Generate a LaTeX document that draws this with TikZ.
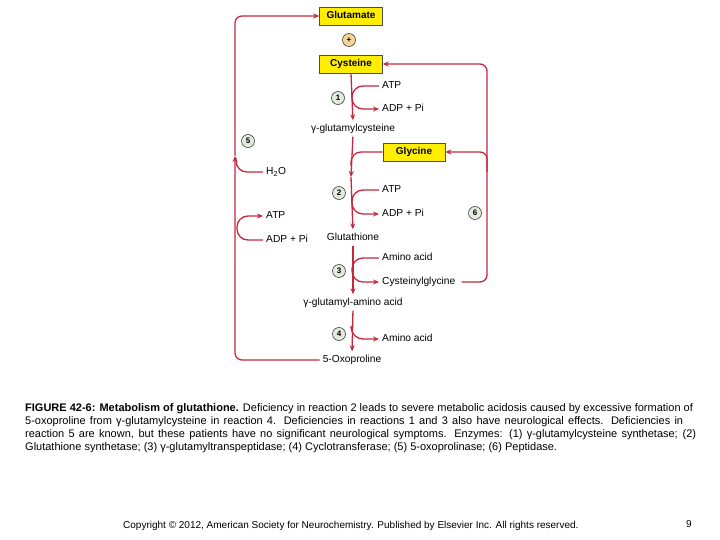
\documentclass[tikz,border=0pt]{standalone}
\usepackage{fontspec}
\setmainfont{Liberation Sans}
\usetikzlibrary{arrows.meta}
\definecolor{pathred}{RGB}{196,40,62}
\definecolor{boxyellow}{RGB}{255,238,0}
\definecolor{stepgreen}{RGB}{226,236,222}
\definecolor{pluspeach}{RGB}{246,214,150}
\tikzset{
  molbox/.style={draw=black!70, fill=boxyellow, line width=0.6pt, minimum width=63pt,
    minimum height=18pt, inner sep=0pt, text height=7.5pt, text depth=2pt,
    font=\fontsize{10}{12}\selectfont\bfseries},
  lbl/.style={inner ysep=1pt, inner xsep=3pt, text height=7pt, text depth=2pt,
    font=\fontsize{10.2}{12}\selectfont},
  enz/.style={circle, draw=black!75, fill=stepgreen, line width=0.6pt, minimum size=13pt,
    inner sep=0pt, font=\fontsize{8}{9}\selectfont\bfseries},
  flow/.style={draw=pathred, line width=1.3pt, -{Stealth[length=6pt,width=5pt]}},
  link/.style={draw=pathred, line width=1.3pt},
  captxt/.style={anchor=base west, inner sep=0pt, font=\fontsize{11}{13}\selectfont},
}
\begin{document}
\begin{tikzpicture}[x=1pt,y=-1pt]
	\useasboundingbox (0,0) rectangle (720,540);
	% substrates
	\node[molbox] (glu) at (351,16) {Glutamate};
	\node[enz, fill=pluspeach] (plus) at (349,40) {+};
	\node[molbox] (cys) at (351,64) {Cysteine};
	\node[molbox, minimum width=62pt] (gly) at (414,152) {Glycine};
	% main chain
	\node[lbl] (gcys) at (353,129) {γ-glutamylcysteine};
	\node[lbl] (gsh) at (353,238) {Glutathione};
	\node[lbl] (gaa) at (353,303) {γ-glutamyl-amino acid};
	\node[lbl] (oxo) at (352,360) {5-Oxoproline};
	% side products
	\node[lbl, anchor=west] (atp1) at (379,86) {ATP};
	\node[lbl, anchor=west] (adp1) at (379,109) {ADP + Pi};
	\node[lbl, anchor=west] (atp2) at (379,190) {ATP};
	\node[lbl, anchor=west] (adp2) at (379,214) {ADP + Pi};
	\node[lbl, anchor=west] (aa3) at (379,258) {Amino acid};
	\node[lbl, anchor=west] (cgly) at (379,282) {Cysteinylglycine};
	\node[lbl, anchor=west] (aa4) at (379,339) {Amino acid};
	\node[lbl, anchor=west] (h2o) at (263,172) {H\textsubscript{2}O};
	\node[lbl, anchor=west] (atp5) at (263,216) {ATP};
	\node[lbl, anchor=west] (adp5) at (263,240) {ADP + Pi};
	% enzymes
	\node[enz] (r1) at (338,98) {1};
	\node[enz] (r2) at (339,193) {2};
	\node[enz] (r3) at (339,271) {3};
	\node[enz] (r4) at (339,334) {4};
	\node[enz] (r5) at (248,141) {5};
	\node[enz] (r6) at (475,213) {6};
	% junctions
	\coordinate (j2) at (351,177);
	\coordinate (s4) at (351,326);
	\coordinate (j5) at (235,156);
	\coordinate (j6) at (487,172);
	% reactions 1-4
	\draw[flow, shorten >=3pt] (cys.south) -- (gcys.north);
	\draw[flow, shorten <=2pt] (gcys.south) -- (j2);
	\draw[flow, shorten >=3pt] (j2) -- (gsh.north);
	\draw[flow, shorten <=2pt, shorten >=3pt] (gsh.south) -- (gaa.north);
	\draw[flow, shorten <=2pt, shorten >=3pt] (gaa.south) -- (oxo.north);
	\draw[flow, rounded corners=11pt] (atp1.west) -- (352,86) -- (352,109) -- (adp1.west);
	\draw[link, rounded corners=10pt] (gly.west) -- (351,152) -- (351,166);
	\draw[flow, rounded corners=11pt] (atp2.west) -- (352,190) -- (352,214) -- (adp2.west);
	\draw[flow, rounded corners=11pt] (aa3.west) -- (352,258) -- (352,282) -- (cgly.west);
	\draw[flow, rounded corners=11pt] (s4) -- (352,339) -- (aa4.west);
	% reaction 5
	\draw[flow, rounded corners=7pt] (oxo.west) -- (235,360) -- (j5);
	\draw[flow, rounded corners=7pt] (j5) -- (235,16) -- (glu.west);
	\draw[link, rounded corners=11pt] (h2o.west) -- (236,172) -- (236,158);
	\draw[flow, rounded corners=11pt] (adp5.west) -- (237,240) -- (237,216) -- (atp5.west);
	% reaction 6
	\draw[flow, rounded corners=7pt, shorten <=3pt] (cgly.east) -- (487,282) -- (487,64) -- (cys.east);
	\draw[flow, rounded corners=7pt] (j6) -- (487,152) -- (gly.east);
	% caption
	\node[captxt] (cap1) at (25,411) {\textbf{FIGURE 42-6: Metabolism of glutathione.} Deficiency in reaction 2 leads to severe metabolic acidosis caused by excessive formation of};
	\node[captxt] (cap2) at (25,424) {\makebox[658pt][s]{5-oxoproline from γ-glutamylcysteine in reaction 4. Deficiencies in reactions 1 and 3 also have neurological effects. Deficiencies in}};
	\node[captxt] (cap3) at (25,437) {\makebox[671pt][s]{reaction 5 are known, but these patients have no significant neurological symptoms. Enzymes: (1) γ-glutamylcysteine synthetase; (2)}};
	\node[captxt] (cap4) at (25,450) {Glutathione synthetase; (3) γ-glutamyltranspeptidase; (4) Cyclotransferase; (5) 5-oxoprolinase; (6) Peptidase.};
	\node[captxt, font=\fontsize{10}{12}\selectfont] (copy) at (123,528) {Copyright © 2012, American Society for Neurochemistry. Published by Elsevier Inc. All rights reserved.};
	\node[captxt, font=\fontsize{10}{12}\selectfont] (page) at (686,527) {9};
\end{tikzpicture}
\end{document}
